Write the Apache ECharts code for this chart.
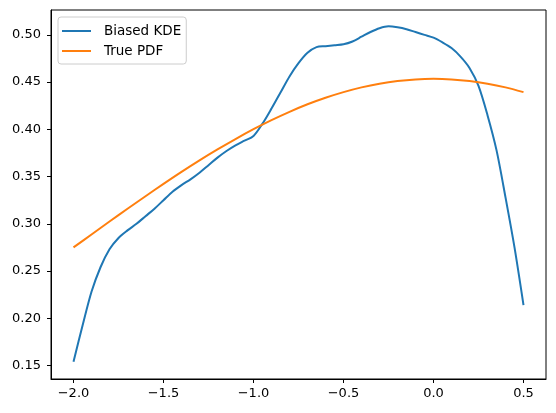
<!DOCTYPE html>
<html>
<head>
<meta charset="utf-8">
<script src="https://cdn.jsdelivr.net/npm/echarts@6/dist/echarts.min.js"></script>
<style>
  html, body { margin: 0; padding: 0; background: #fff; }
  #chart { width: 556px; height: 413px; }
</style>
</head>
<body>
<div id="chart"></div>
<script>
// x 位置 (KDE 取样点)
const kdeX = [
  -2.00, -1.95, -1.90, -1.85, -1.80, -1.75, -1.70, -1.65, -1.60, -1.55,
  -1.50, -1.45, -1.40, -1.35, -1.30, -1.25, -1.20, -1.15, -1.10, -1.05,
  -1.00, -0.95, -0.90, -0.85, -0.80, -0.75, -0.70, -0.65, -0.60, -0.55,
  -0.50, -0.45, -0.40, -0.35, -0.30, -0.25, -0.20, -0.15, -0.10, -0.05,
  0.00, 0.05, 0.10, 0.15, 0.20, 0.25, 0.30, 0.35, 0.40, 0.45, 0.50,
];
const kdeY = [
  0.154, 0.192, 0.228, 0.254, 0.273, 0.285, 0.293, 0.300, 0.308, 0.316,
  0.325, 0.334, 0.341, 0.347, 0.354, 0.362, 0.370, 0.377, 0.383, 0.388,
  0.393, 0.406, 0.422, 0.439, 0.456, 0.470, 0.481, 0.487, 0.488, 0.489,
  0.490, 0.493, 0.498, 0.503, 0.507, 0.509, 0.508, 0.506, 0.503, 0.500,
  0.497, 0.492, 0.486, 0.477, 0.465, 0.446, 0.415, 0.378, 0.328, 0.275, 0.214,
];

// True PDF
const pdfX = [
  -2.0, -1.9, -1.8, -1.7, -1.6, -1.5, -1.4, -1.3, -1.2, -1.1, -1.0,
  -0.9, -0.8, -0.7, -0.6, -0.5, -0.4, -0.3, -0.2, -0.1, 0.0,
  0.1, 0.2, 0.3, 0.4, 0.5,
];
const pdfY = [
  0.2750, 0.2887, 0.3024, 0.3159, 0.3292, 0.3422, 0.3549, 0.3671, 0.3787, 0.3897, 0.4001,
  0.4097, 0.4185, 0.4265, 0.4334, 0.4394, 0.4444, 0.4483, 0.4511, 0.4528, 0.4534,
  0.4528, 0.4511, 0.4483, 0.4444, 0.4394,
];

// 刻度
const xTicks = [-2.0, -1.5, -1.0, -0.5, 0.0, 0.5];
const yTicks = [0.15, 0.20, 0.25, 0.30, 0.35, 0.40, 0.45, 0.50];

const seriesNames = ["Biased KDE", "True PDF"];
const colors = ["#1f77b4", "#ff7f0e"];

const pair = (xs, ys) => xs.map((x, i) => [x, ys[i]]);
const minus = (s) => s.replace("-", "\u2212");

const myChart = echarts.init(document.getElementById("chart"), null, { renderer: "canvas" });

const FONT = "DejaVu Sans";
const options = {
  animation: false,
  textStyle: { fontFamily: FONT },
  grid: {
    left: 51,
    right: 10,
    top: 10,
    bottom: 34,
    show: true,
    borderColor: "#000",
    borderWidth: 1,
    backgroundColor: "transparent",
  },
  legend: {
    orient: "vertical",
    left: 58,
    top: 17,
    icon: "rect",
    itemWidth: 29,
    itemHeight: 2,
    itemGap: 4,
    padding: [6, 5, 5, 4],
    borderColor: "#cccccc",
    borderWidth: 1,
    borderRadius: 3,
    backgroundColor: "rgba(255,255,255,0.8)",
    textStyle: {
      fontFamily: FONT,
      fontSize: 13.5,
      lineHeight: 16,
      color: "#000",
      padding: [0, 0, 0, 8],
    },
    data: seriesNames,
  },
  xAxis: {
    type: "value",
    min: -2.125,
    max: 0.625,
    splitLine: { show: false },
    axisLine: { show: true, onZero: false, lineStyle: { color: "#000", width: 1 } },
    axisTick: {
      show: true,
      length: 4,
      customValues: xTicks,
      lineStyle: { color: "#000", width: 1 },
    },
    axisLabel: {
      customValues: xTicks,
      color: "#000",
      fontFamily: FONT,
      fontSize: 13,
      margin: 8,
      formatter: (v) => minus(v.toFixed(1)),
    },
  },
  yAxis: {
    type: "value",
    min: 0.1357,
    max: 0.5263,
    splitLine: { show: false },
    axisLine: { show: true, onZero: false, lineStyle: { color: "#000", width: 1 } },
    axisTick: {
      show: true,
      length: 4,
      customValues: yTicks,
      lineStyle: { color: "#000", width: 1 },
    },
    axisLabel: {
      customValues: yTicks,
      color: "#000",
      fontFamily: FONT,
      fontSize: 13,
      margin: 10,
      formatter: (v) => v.toFixed(2),
    },
  },
  series: [
    {
      name: seriesNames[0],
      type: "line",
      data: pair(kdeX, kdeY),
      symbol: "none",
      smooth: 0.3,
      lineStyle: { color: colors[0], width: 2 },
      itemStyle: { color: colors[0] },
      z: 2,
    },
    {
      name: seriesNames[1],
      type: "line",
      data: pair(pdfX, pdfY),
      symbol: "none",
      smooth: 0.3,
      lineStyle: { color: colors[1], width: 2 },
      itemStyle: { color: colors[1] },
      z: 3,
    },
  ],
};

myChart.setOption(options);
</script>
</body>
</html>
